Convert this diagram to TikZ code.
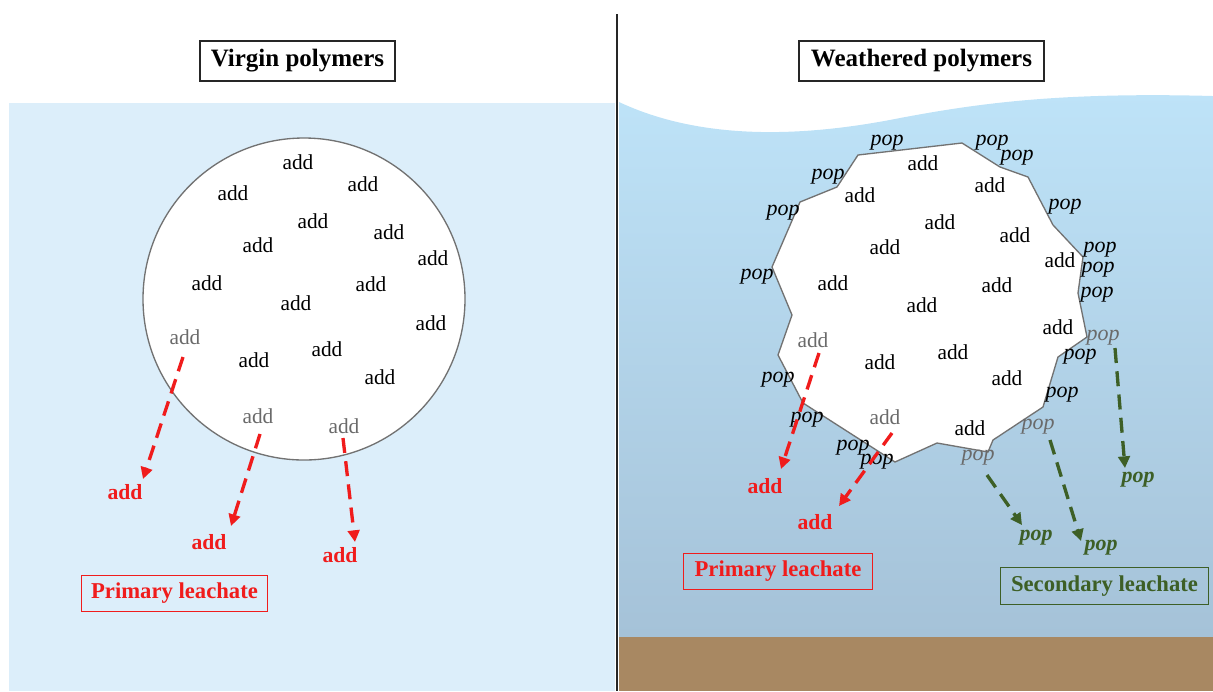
\documentclass[tikz,border=0pt]{standalone}
\usepackage{fontspec}
\setmainfont{Liberation Serif}
\usetikzlibrary{arrows.meta}

\definecolor{leftsea}{HTML}{DCEEFA}
\definecolor{seatop}{HTML}{BEE3F8}
\definecolor{seabot}{HTML}{A5C2D8}
\definecolor{soil}{HTML}{A88862}
\definecolor{rim}{HTML}{727272}
\definecolor{fadetxt}{HTML}{6A6A6A}
\definecolor{leachred}{HTML}{F01C1C}
\definecolor{leachgreen}{HTML}{3D5F26}

\begin{document}
\begin{tikzpicture}[x=0.6pt,y=-0.6pt,
  add/.style={font=\fontsize{12.8}{14}\selectfont, inner sep=0pt},
  oldadd/.style={add, text=fadetxt},
  pop/.style={font=\fontsize{13.2}{15}\selectfont\itshape, inner sep=0pt},
  oldpop/.style={pop, text=fadetxt},
  outadd/.style={font=\fontsize{13}{15}\selectfont\bfseries, text=leachred, inner sep=0pt},
  outpop/.style={font=\fontsize{13.2}{15}\selectfont\bfseries\itshape, text=leachgreen, inner sep=0pt},
  titlebox/.style={draw=black!85, line width=0.8pt, fill=white, inner sep=0pt,
    font=\fontsize{15}{17}\selectfont\bfseries, minimum height=24pt},
  leachbox/.style={line width=0.7pt, inner sep=0pt,
    font=\fontsize{13.6}{16}\selectfont\bfseries, minimum height=22pt},
  redflow/.style={draw=leachred, line width=2pt, dash pattern=on 9pt off 5pt,
    -{Triangle[length=7pt,width=7pt]}},
  greenflow/.style={draw=leachgreen, line width=2pt, dash pattern=on 9pt off 5pt,
    -{Triangle[length=7pt,width=7pt]}},
  grain/.style={fill=white, draw=rim, line width=0.8pt}
]
\useasboundingbox (0,0) rectangle (1213,691);

% ---------- backgrounds ----------
\fill[leftsea] (9,103) rectangle (615,691);
\shade[top color=seatop, bottom color=seabot]
  (619,102) .. controls (700,140) and (800,138) .. (900,118)
  .. controls (980,103) and (1060,92) .. (1213,96)
  -- (1213,637) -- (619,637) -- cycle;
\fill[soil] (619,637) rectangle (1213,691);
\draw[black!85, line width=1.2pt] (617,14) -- (617,691);

% ---------- titles ----------
\node[titlebox, minimum width=117pt] (tv) at (297.5,61) {Virgin polymers};
\node[titlebox, minimum width=147pt] (tw) at (921.5,61) {Weathered polymers};

% ---------- virgin particle ----------
\draw[grain] (304,299) circle [radius=161];

\node[add] (v1)  at (298,162) {add};
\node[add] (v2)  at (363,184) {add};
\node[add] (v3)  at (233,193) {add};
\node[add] (v4)  at (313,221) {add};
\node[add] (v5)  at (389,232) {add};
\node[add] (v6)  at (258,245) {add};
\node[add] (v7)  at (433,258) {add};
\node[add] (v8)  at (207,283) {add};
\node[add] (v9)  at (371,284) {add};
\node[add] (v10) at (296,303) {add};
\node[add] (v11) at (431,323) {add};
\node[add] (v12) at (327,349) {add};
\node[add] (v13) at (254,360) {add};
\node[add] (v14) at (380,377) {add};
\node[oldadd] (va) at (185,337) {add};
\node[oldadd] (vb) at (258,416) {add};
\node[oldadd] (vc) at (344,426) {add};

\node[outadd] (la) at (125,492) {add};
\node[outadd] (lb) at (209,542) {add};
\node[outadd] (lc) at (340,555) {add};

\coordinate (vas) at (183,357);
\coordinate (vae) at (143,479);
\coordinate (vbs) at (260,434);
\coordinate (vbe) at (231,526);
\coordinate (vcs) at (343,438);
\coordinate (vce) at (355,542);
\draw[redflow] (vas) -- (vae);
\draw[redflow] (vbs) -- (vbe);
\draw[redflow] (vcs) -- (vce);

\node[leachbox, draw=leachred, text=leachred, minimum width=112pt] (pl) at (174.5,593.5) {Primary leachate};

% ---------- weathered particle ----------
\draw[grain] (858,155) -- (962,143) -- (1000,167) -- (1028,177) -- (1053,225)
  -- (1083,257) -- (1078,293) -- (1087,337) -- (1058,357) -- (1043,407)
  -- (993,440) -- (988,452) -- (937,443) -- (895,462) -- (803,403)
  -- (778,355) -- (792,315) -- (772,267) -- (800,202) -- (837,187) -- cycle;

\node[add] (w1)  at (923,163) {add};
\node[add] (w2)  at (860,195) {add};
\node[add] (w3)  at (990,185) {add};
\node[add] (w4)  at (940,222) {add};
\node[add] (w5)  at (885,247) {add};
\node[add] (w6)  at (1015,235) {add};
\node[add] (w7)  at (1060,260) {add};
\node[add] (w8)  at (833,283) {add};
\node[add] (w9)  at (997,285) {add};
\node[add] (w10) at (922,305) {add};
\node[add] (w11) at (1058,327) {add};
\node[add] (w12) at (880,362) {add};
\node[add] (w13) at (953,352) {add};
\node[add] (w14) at (1007,378) {add};
\node[add] (w15) at (970,428) {add};
\node[oldadd] (wa) at (813,340) {add};
\node[oldadd] (wb) at (885,417) {add};

\node[pop] (p1)  at (887,143) {pop};
\node[pop] (p2)  at (992,143) {pop};
\node[pop] (p3)  at (1017,158) {pop};
\node[pop] (p4)  at (828,177) {pop};
\node[pop] (p5)  at (783,213) {pop};
\node[pop] (p6)  at (1065,207) {pop};
\node[pop] (p7)  at (1100,250) {pop};
\node[pop] (p8)  at (1098,270) {pop};
\node[pop] (p9)  at (1097,295) {pop};
\node[pop] (p10) at (757,277) {pop};
\node[pop] (p11) at (1080,357) {pop};
\node[pop] (p12) at (778,380) {pop};
\node[pop] (p13) at (1062,395) {pop};
\node[pop] (p14) at (807,420) {pop};
\node[pop] (p15) at (853,448) {pop};
\node[pop] (p16) at (877,462) {pop};
\node[oldpop] (pa) at (1103,338) {pop};
\node[oldpop] (pb) at (1038,427) {pop};
\node[oldpop] (pc) at (978,458) {pop};

\node[outadd] (ra) at (765,486) {add};
\node[outadd] (rb) at (815,522) {add};
\node[outpop] (ga) at (1138,480) {pop};
\node[outpop] (gb) at (1036,538) {pop};
\node[outpop] (gc) at (1101,548) {pop};

\coordinate (was) at (819,353);
\coordinate (wae) at (781,469);
\coordinate (wbs) at (892,433);
\coordinate (wbe) at (839,506);
\coordinate (pas) at (1115,348);
\coordinate (pae) at (1125,468);
\coordinate (pbs) at (1050,440);
\coordinate (pbe) at (1081,541);
\coordinate (pcs) at (987,475);
\coordinate (pce) at (1022,525);
\draw[redflow] (was) -- (wae);
\draw[redflow] (wbs) -- (wbe);
\draw[greenflow] (pas) -- (pae);
\draw[greenflow] (pbs) -- (pbe);
\draw[greenflow] (pcs) -- (pce);

\node[leachbox, draw=leachred, text=leachred, minimum width=113pt] (pr) at (778,571.5) {Primary leachate};
\node[leachbox, draw=leachgreen, text=leachgreen, minimum width=125pt] (sr) at (1104.5,586) {Secondary leachate};

\end{tikzpicture}
\end{document}
